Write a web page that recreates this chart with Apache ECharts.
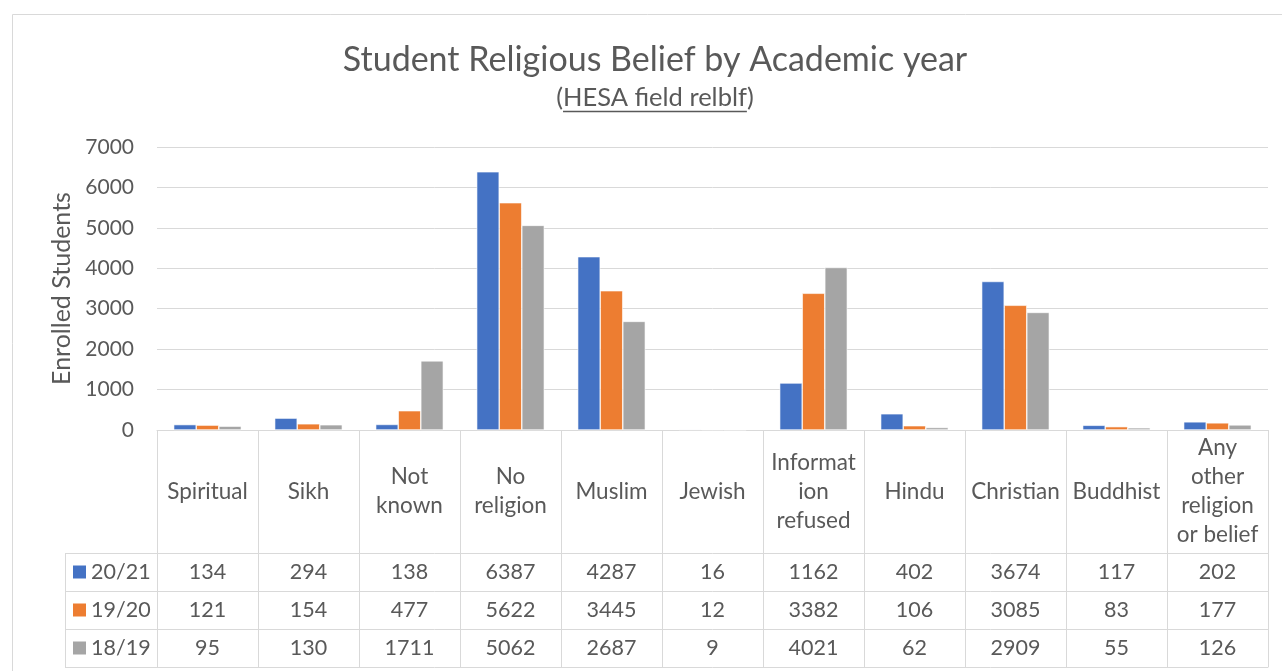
<!DOCTYPE html>
<html>
<head>
<meta charset="utf-8">
<script src="https://cdn.jsdelivr.net/npm/echarts@6/dist/echarts.min.js"></script>
<style>
html,body{margin:0;padding:0;background:#fff;}
#main{width:1282px;height:671px;}
</style>
</head>
<body>
<div id="main"></div>
<script>
// ---- data ----
const categories = ['Spiritual','Sikh','Not known','No religion','Muslim','Jewish','Information refused','Hindu','Christian','Buddhist','Any other religion or belief'];
const categoryLabels = ['Spiritual','Sikh','Not\nknown','No\nreligion','Muslim','Jewish','Informat\nion\nrefused','Hindu','Christian','Buddhist','Any\nother\nreligion\nor belief'];
const seriesNames = ['20/21','19/20','18/19'];
const values2021 = [134,294,138,6387,4287,16,1162,402,3674,117,202];
const values1920 = [121,154,477,5622,3445,12,3382,106,3085,83,177];
const values1819 = [95,130,1711,5062,2687,9,4021,62,2909,55,126];
const yMin = 0, yMax = 7000, yStep = 1000;
const titleText = 'Student Religious Belief by Academic year';
const subtitleText = 'HESA field relblf';
const yAxisTitle = 'Enrolled Students';

// ---- layout / style ----
const FONT = 'Lato';
const TXT = '#595959';
const LINE = '#d9d9d9';
const colors = ['#4472C4','#ED7D31','#A5A5A5'];
const W = 1282, H = 671;
const GL = 157, GR = 14, GT = 147, GB = 241;
const HEAD_H = 123, ROW_H = 38;
const TABLE_LEFT = 65;
const axisY = H - GB;
const seriesValues = [values2021, values1920, values1819];

const chart = echarts.init(document.getElementById('main'));

function measure(text, size) {
  const c = document.createElement('canvas').getContext('2d');
  c.font = size + 'px ' + FONT;
  return c.measureText(text).width;
}

const xAxes = [{
  type: 'category', data: categories, position: 'bottom', gridIndex: 0,
  axisLine: {show: true, lineStyle: {color: LINE, width: 1}},
  axisTick: {show: true, interval: 0, length: HEAD_H + ROW_H * 3, lineStyle: {color: LINE, width: 1}},
  axisLabel: {interval: 0, margin: HEAD_H / 2, verticalAlign: 'middle', align: 'center',
    fontFamily: FONT, fontSize: 22.5, lineHeight: 29, color: TXT,
    formatter: (v, i) => categoryLabels[i]},
  splitLine: {show: false}
}];
seriesValues.forEach((vals, k) => {
  xAxes.push({
    type: 'category', data: categories, position: 'bottom', offset: HEAD_H + ROW_H * k,
    axisLine: {show: true, lineStyle: {color: LINE, width: 1}},
    axisTick: {show: false},
    axisLabel: {interval: 0, margin: ROW_H / 2, verticalAlign: 'middle', align: 'center',
      fontFamily: FONT, fontSize: 21.5, color: TXT,
      formatter: (v, i) => String(vals[i])},
    splitLine: {show: false}
  });
});
xAxes.push({
  type: 'category', data: categories, position: 'bottom', offset: HEAD_H + ROW_H * 3,
  axisLine: {show: true, lineStyle: {color: LINE, width: 1}},
  axisTick: {show: false}, axisLabel: {show: false}, splitLine: {show: false}
});

const titleSize = 34, subSize = 25.5;
const subFull = '(' + subtitleText + ')';
const subW = measure(subFull, subSize);
const parenW = measure('(', subSize);
const innerW = measure(subtitleText, subSize);
const titleCx = 655;
const subLeft = titleCx - subW / 2 + parenW;

const graphics = [
  {type: 'rect', shape: {x: 12.5, y: 14.5, width: 1400, height: 800}, style: {fill: 'none', stroke: LINE, lineWidth: 1}, silent: true},
  {type: 'text', x: titleCx, y: 60, style: {text: titleText, fontFamily: FONT, fontSize: titleSize, fill: TXT, textAlign: 'center', textVerticalAlign: 'middle'}},
  {type: 'text', x: titleCx, y: 98, style: {text: subFull, fontFamily: FONT, fontSize: subSize, fill: TXT, textAlign: 'center', textVerticalAlign: 'middle'}},
  {type: 'line', shape: {x1: subLeft, y1: 111.5, x2: subLeft + innerW, y2: 111.5}, style: {stroke: TXT, lineWidth: 1.4}}
];
for (let k = 0; k <= 3; k++) {
  const y = axisY + HEAD_H + ROW_H * k + 0.5;
  graphics.push({type: 'line', shape: {x1: TABLE_LEFT, y1: y, x2: GL, y2: y}, style: {stroke: LINE, lineWidth: 1}, silent: true});
}
graphics.push({type: 'line', shape: {x1: TABLE_LEFT + 0.5, y1: axisY + HEAD_H, x2: TABLE_LEFT + 0.5, y2: axisY + HEAD_H + ROW_H * 3}, style: {stroke: LINE, lineWidth: 1}, silent: true});

chart.setOption({
  animation: false,
  color: colors,
  textStyle: {fontFamily: FONT},
  grid: {left: GL, right: GR, top: GT, bottom: GB, containLabel: false},
  legend: {
    orient: 'vertical', left: 73, top: axisY + HEAD_H, itemGap: 0, padding: 0,
    height: ROW_H * 3 + 4,
    itemWidth: 13, itemHeight: 13, icon: 'rect',
    itemStyle: {borderWidth: 0},
    textStyle: {fontFamily: FONT, fontSize: 21.5, color: TXT, lineHeight: ROW_H, padding: [0,0,0,0]},
    data: seriesNames
  },
  xAxis: xAxes,
  yAxis: {
    type: 'value', min: yMin, max: yMax, interval: yStep,
    name: yAxisTitle, nameLocation: 'middle', nameRotate: 90, nameGap: 82,
    nameTextStyle: {fontFamily: FONT, fontSize: 25, color: TXT},
    axisLine: {show: false}, axisTick: {show: false},
    axisLabel: {margin: 23, fontFamily: FONT, fontSize: 21, color: TXT, formatter: v => String(v)},
    splitLine: {lineStyle: {color: LINE, width: 1}}
  },
  series: seriesValues.map((vals, k) => ({
    name: seriesNames[k], type: 'bar', xAxisIndex: 0, data: vals,
    barGap: '0%', barCategoryGap: '33%',
    itemStyle: {color: colors[k], borderColor: '#ffffff', borderWidth: 0.6}
  })),
  graphic: graphics
});
</script>
</body>
</html>
